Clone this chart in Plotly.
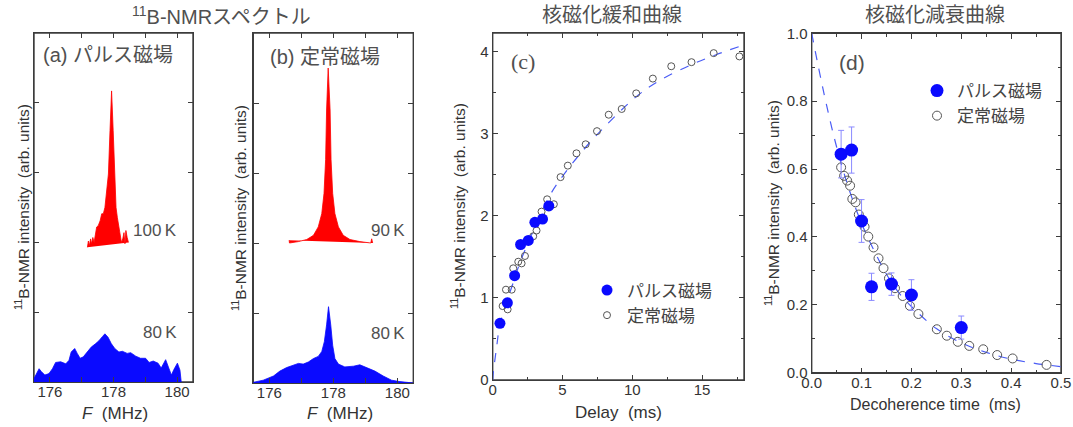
import plotly.graph_objects as go

W, H = 1073, 427

# ---------------- data ----------------
# (a) pulsed field spectra
a100_F = [177.18, 177.21, 177.24, 177.28, 177.31, 177.35, 177.39, 177.42, 177.47, 177.52, 177.58,
          177.63, 177.68, 177.73, 177.79, 177.84, 177.89, 177.94, 177.99, 178.05, 178.08, 178.12,
          178.18, 178.22, 178.25, 178.29, 178.33, 178.36, 178.39, 178.43, 178.47]
a100_I = [1.93, 2.02, 1.95, 2.05, 1.98, 2.07, 2.0, 2.10, 2.22, 2.24, 2.31,
          2.41, 2.41, 2.50, 2.74, 2.98, 3.60, 4.17, 3.60, 2.89, 2.50, 2.36,
          2.22, 2.08, 2.00, 2.05, 2.14, 1.98, 2.17, 2.07, 2.00]
a80_F = [175.5, 175.58, 175.66, 175.73, 175.84, 175.97, 176.08, 176.18, 176.34, 176.5, 176.6,
         176.67, 176.78, 176.86, 176.95, 177.05, 177.18, 177.3, 177.44, 177.54, 177.65, 177.73,
         177.83, 177.93, 178.04, 178.17, 178.28, 178.43, 178.54, 178.7, 178.85, 179.01, 179.12,
         179.25, 179.4, 179.5, 179.64, 179.75, 179.82, 179.9, 180.01, 180.09, 180.13]
a80_I = [0.05, 0.12, 0.19, 0.15, 0.10, 0.12, 0.19, 0.28, 0.29, 0.26, 0.31,
         0.43, 0.48, 0.41, 0.34, 0.36, 0.43, 0.50, 0.55, 0.59, 0.65, 0.69,
         0.64, 0.55, 0.48, 0.43, 0.44, 0.41, 0.42, 0.37, 0.34, 0.34, 0.28,
         0.30, 0.27, 0.20, 0.32, 0.20, 0.10, 0.18, 0.27, 0.17, 0.0]

# (b) steady field spectra
b90_F = [176.62, 176.63, 176.91, 177.17, 177.38, 177.53, 177.64, 177.71, 177.76, 177.79, 177.84,
         177.90, 177.93, 177.98, 178.05, 178.16, 178.31, 178.52, 178.83, 179.17, 179.20, 179.23]
b90_I = [2.04, 2.0, 2.02, 2.05, 2.11, 2.23, 2.42, 2.71, 3.19, 3.90, 4.50,
         3.90, 3.19, 2.71, 2.42, 2.23, 2.11, 2.05, 2.02, 2.0, 2.06, 2.0]
b80_F = [175.5, 175.81, 176.13, 176.33, 176.54, 176.75, 176.91, 177.06, 177.22, 177.38, 177.53,
         177.64, 177.72, 177.79, 177.85, 177.92, 177.98, 178.05, 178.16, 178.36, 178.63, 178.83,
         179.04, 179.3, 179.56, 179.82, 180.08, 180.5]
b80_I = [0.01, 0.04, 0.10, 0.17, 0.22, 0.26, 0.28, 0.27, 0.30, 0.35, 0.38,
         0.45, 0.59, 0.83, 1.09, 0.83, 0.54, 0.35, 0.27, 0.23, 0.24, 0.26,
         0.22, 0.17, 0.10, 0.04, 0.02, 0.0]

# (c) relaxation curve
c_pulse_t = [0.52, 1.05, 1.57, 2.0, 2.55, 3.02, 3.57, 4.02]
c_pulse_I = [0.69, 0.94, 1.27, 1.65, 1.70, 1.92, 1.96, 2.12]
c_steady_t = [0.71, 0.95, 1.07, 1.36, 1.47, 1.83, 2.07, 2.31, 2.9, 3.14, 3.5, 3.9, 4.38,
              4.86, 5.38, 6.0, 6.66, 7.47, 8.31, 9.24, 10.28, 11.47, 12.79, 14.24, 15.83, 17.67]
c_steady_I = [0.90, 1.10, 0.86, 1.10, 1.36, 1.44, 1.42, 1.51, 1.75, 1.82, 2.05, 2.20, 2.14,
              2.47, 2.61, 2.76, 2.87, 3.03, 3.23, 3.30, 3.49, 3.67, 3.82, 3.87, 3.98, 3.94]
c_fit_t = [0, 0.05, 0.28, 0.52, 1.0, 1.5, 2.0, 3.0, 4.1, 5.0, 6.0, 7.0, 8.0, 10.28, 12.0, 14.24, 16.0, 18.0]
c_fit_I = [0, 0.1, 0.4, 0.68, 0.95, 1.2, 1.45, 1.85, 2.25, 2.48, 2.7, 2.9, 3.08, 3.45, 3.65, 3.84, 3.96, 4.08]

# (d) decoherence curve
d_pulse_t = [0.059, 0.080, 0.100, 0.120, 0.160, 0.200, 0.300]
d_pulse_I = [0.644, 0.656, 0.447, 0.253, 0.261, 0.229, 0.133]
d_pulse_err = [0.07, 0.068, 0.063, 0.04, 0.033, 0.045, 0.034]
d_steady_t = [0.059, 0.065, 0.071, 0.077, 0.0815, 0.088, 0.0945, 0.106, 0.1135, 0.124, 0.134,
              0.144, 0.155, 0.167, 0.1825, 0.197, 0.214, 0.251, 0.271, 0.293, 0.316, 0.344,
              0.372, 0.403, 0.471]
d_steady_I = [0.605, 0.58, 0.566, 0.551, 0.512, 0.502, 0.466, 0.43, 0.401, 0.369, 0.337,
              0.308, 0.278, 0.249, 0.226, 0.197, 0.173, 0.128, 0.109, 0.091, 0.079, 0.069,
              0.052, 0.042, 0.023]
d_fit_t = [0, 0.025, 0.05, 0.075, 0.1, 0.125, 0.15, 0.175, 0.2, 0.25, 0.3, 0.35, 0.4, 0.45, 0.5]
d_fit_I = [1.0, 0.82, 0.665, 0.54, 0.44, 0.36, 0.29, 0.235, 0.195, 0.13, 0.088, 0.06, 0.04, 0.027, 0.018]

LEG_PULSE = "パルス磁場"
LEG_STEADY = "定常磁場"

# ---------------- style ----------------
SANS = "Liberation Sans, Noto Sans CJK JP, sans-serif"
TXT = "#333333"
AX = "#3c3c3c"
BLUE = "#0a0aff"
RED = "#ff0000"
FIT = "#4a5cf5"

# panel boxes in pixels: left, right, top, bottom
BOX = {
    "a": (34, 193, 33, 382),
    "b": (253.3, 413.3, 33, 383),
    "c": (492.7, 744, 33, 380),
    "d": (811.7, 1061, 33.3, 372.7),
}


def dom_x(l, r):
    return [l / W, r / W]


def dom_y(t, b):
    return [1 - b / H, 1 - t / H]


def axis_style(**kw):
    d = dict(showline=True, linecolor=AX, linewidth=1.4, mirror="allticks", ticks="inside",
             ticklen=5, tickwidth=1.4, tickcolor=AX, showgrid=False, zeroline=False,
             automargin=False,
             tickfont=dict(family=SANS, size=15, color=TXT))
    d.update(kw)
    return d


fig = go.Figure()

# (a)
fig.add_trace(go.Scatter(x=a100_F, y=a100_I, fill="toself", mode="lines", line=dict(color=RED, width=0.8),
                         fillcolor=RED, showlegend=False, xaxis="x", yaxis="y"))
fig.add_trace(go.Scatter(x=a80_F, y=a80_I, fill="tozeroy", mode="lines", line=dict(color=BLUE, width=0.8),
                         fillcolor=BLUE, showlegend=False, xaxis="x", yaxis="y"))
# (b)
fig.add_trace(go.Scatter(x=b90_F, y=b90_I, fill="toself", mode="lines", line=dict(color=RED, width=0.8),
                         fillcolor=RED, showlegend=False, xaxis="x2", yaxis="y2"))
fig.add_trace(go.Scatter(x=b80_F, y=b80_I, fill="tozeroy", mode="lines", line=dict(color=BLUE, width=0.8),
                         fillcolor=BLUE, showlegend=False, xaxis="x2", yaxis="y2"))
# (c)
fig.add_trace(go.Scatter(x=c_fit_t, y=c_fit_I, mode="lines", line=dict(color=FIT, width=1.2, dash="dash", shape="spline"),
                         showlegend=False, xaxis="x3", yaxis="y3"))
fig.add_trace(go.Scatter(x=c_steady_t, y=c_steady_I, mode="markers", name=LEG_STEADY,
                         marker=dict(symbol="circle-open", size=7, color="#555555", line=dict(width=1)),
                         xaxis="x3", yaxis="y3", legend="legend", legendrank=2))
fig.add_trace(go.Scatter(x=c_pulse_t, y=c_pulse_I, mode="markers", name=LEG_PULSE,
                         marker=dict(symbol="circle", size=11, color=BLUE),
                         xaxis="x3", yaxis="y3", legend="legend", legendrank=1))
# (d)
fig.add_trace(go.Scatter(x=d_fit_t, y=d_fit_I, mode="lines", line=dict(color=FIT, width=1.2, dash="dash", shape="spline"),
                         showlegend=False, xaxis="x4", yaxis="y4"))
fig.add_trace(go.Scatter(x=d_steady_t, y=d_steady_I, mode="markers", name=LEG_STEADY,
                         marker=dict(symbol="circle-open", size=9, color="#555555", line=dict(width=1)),
                         xaxis="x4", yaxis="y4", legend="legend2", legendrank=2))
fig.add_trace(go.Scatter(x=d_pulse_t, y=d_pulse_I, mode="markers", name=LEG_PULSE,
                         marker=dict(symbol="circle", size=13, color=BLUE),
                         error_y=dict(type="data", array=d_pulse_err, color="#8a8aff", thickness=1, width=3),
                         xaxis="x4", yaxis="y4", legend="legend2", legendrank=1))

spec_x = dict(range=[175.5, 180.5], tick0=176, dtick=2, ticklabelstandoff=-4,
              minor=dict(dtick=1, ticklen=5, ticks="inside", tickcolor=AX, tickwidth=1.4))
spec_y = dict(range=[0, 5], tickvals=[1, 2, 3, 4], showticklabels=False)

LEGFONT = dict(family=SANS, size=17, color="#444")

fig.update_layout(
    width=W, height=H, margin=dict(l=0, r=0, t=0, b=0, pad=0, autoexpand=False),
    paper_bgcolor="white", plot_bgcolor="rgba(0,0,0,0)",
    font=dict(family=SANS, color=TXT),
    xaxis=axis_style(domain=dom_x(*BOX["a"][:2]), anchor="y", **spec_x),
    yaxis=axis_style(domain=dom_y(*BOX["a"][2:]), anchor="x", **spec_y),
    xaxis2=axis_style(domain=dom_x(*BOX["b"][:2]), anchor="y2", **spec_x),
    yaxis2=axis_style(domain=dom_y(*BOX["b"][2:]), anchor="x2", **spec_y),
    xaxis3=axis_style(domain=dom_x(*BOX["c"][:2]), anchor="y3", range=[0, 18], dtick=5, tick0=0,
                      ticklabelstandoff=-4,
                      minor=dict(dtick=2.5, ticklen=3, ticks="inside", tickcolor=AX)),
    yaxis3=axis_style(domain=dom_y(*BOX["c"][2:]), anchor="x3", range=[0, 4.225], dtick=1, tick0=0,
                      minor=dict(dtick=0.5, ticklen=3, ticks="inside", tickcolor=AX)),
    xaxis4=axis_style(domain=dom_x(*BOX["d"][:2]), anchor="y4", range=[0, 0.5], dtick=0.1, tick0=0,
                      tickformat=".1f", ticklabelstandoff=-4,
                      minor=dict(dtick=0.05, ticklen=3, ticks="inside", tickcolor=AX)),
    yaxis4=axis_style(domain=dom_y(*BOX["d"][2:]), anchor="x4", range=[0, 1.0], dtick=0.2, tick0=0,
                      tickformat=".1f",
                      minor=dict(dtick=0.1, ticklen=3, ticks="inside", tickcolor=AX)),
    legend=dict(x=(607 - 20) / W, y=1 - 272.5 / H, xanchor="left", yanchor="top",
                bgcolor="rgba(0,0,0,0)", font=LEGFONT, traceorder="normal", tracegroupgap=0),
    legend2=dict(x=(937 - 20) / W, y=1 - 73 / H, xanchor="left", yanchor="top",
                 bgcolor="rgba(0,0,0,0)", font=LEGFONT, traceorder="normal", tracegroupgap=0),
)

# frames drawn as filled rings (outer dark rect + inner white rect) below the plot contents
LW = 1.4
for l, r, t, b in BOX.values():
    fig.add_shape(type="rect", xref="paper", yref="paper", layer="below",
                  x0=(l - LW / 2) / W, x1=(r + LW / 2) / W, y0=1 - (b + LW / 2) / H, y1=1 - (t - LW / 2) / H,
                  line=dict(width=0), fillcolor=AX)
    fig.add_shape(type="rect", xref="paper", yref="paper", layer="below",
                  x0=(l + LW / 2) / W, x1=(r - LW / 2) / W, y0=1 - (b - LW / 2) / H, y1=1 - (t + LW / 2) / H,
                  line=dict(width=0), fillcolor="white")


def ann(text, x, y, size, xanchor="center", angle=0, family=SANS, color=TXT):
    fig.add_annotation(text=text, x=x / W, y=1 - y / H, xref="paper", yref="paper",
                       xanchor=xanchor, yanchor="middle", showarrow=False, textangle=angle,
                       font=dict(family=family, size=size, color=color))


TITLE_C = "#505050"
ann("<sup>11</sup>B-NMRスペクトル", 221, 15, 20, color=TITLE_C)
ann("核磁化緩和曲線", 612, 15, 20, color=TITLE_C)
ann("核磁化減衰曲線", 935, 15, 20, color=TITLE_C)

ann("(a) パルス磁場", 41, 55, 20, xanchor="left", color="#505050")
ann("(b) 定常磁場", 268, 57, 20, xanchor="left", color="#505050")
ann("100\u2009K", 179, 230, 17, xanchor="right", color="#505050")
ann("80\u2009K", 179, 332, 17, xanchor="right", color="#505050")
ann("90\u2009K", 407, 230, 17, xanchor="right", color="#505050")
ann("80\u2009K", 407, 333, 17, xanchor="right", color="#505050")
ann("(c)", 523, 62, 22, family="Liberation Serif, serif", color="#505050")
ann("(d)", 852, 63, 21, color="#505050")

YT = "<sup>11</sup>B-NMR intensity\u00a0 (arb. units)"
ann(YT, 22, 207, 15.5, angle=-90)
ann(YT, 239, 208, 15.5, angle=-90)
ann(YT, 458, 206, 15.5, angle=-90)
ann(YT, 772, 203, 15.5, angle=-90)

ann("<i>F</i>\u00a0 (MHz)", 115, 413, 17)
ann("<i>F</i>\u00a0 (MHz)", 340, 413, 17)
ann("Delay\u00a0 (ms)", 618, 412, 17)
ann("Decoherence time\u00a0 (ms)", 935, 404, 16)

fig.write_html("out.html", config={"displayModeBar": False},
               post_script="document.body.style.margin='0px';document.body.style.overflow='hidden';")
